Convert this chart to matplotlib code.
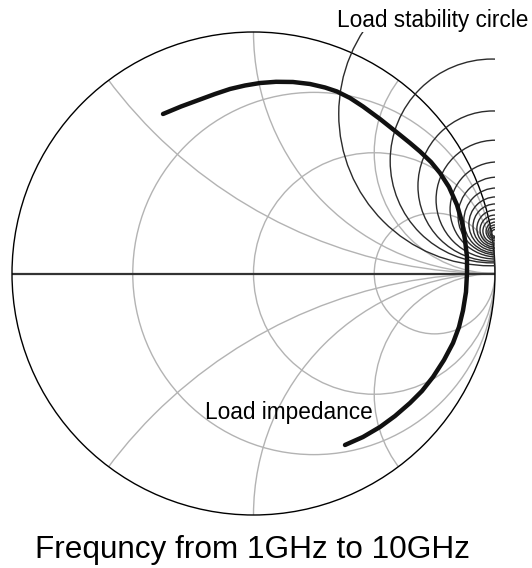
import numpy as np
import matplotlib
matplotlib.use("Agg")
from matplotlib import pyplot as plt
import matplotlib.patches as mpatches

plt.rcParams['font.family'] = ['Liberation Sans', 'DejaVu Sans']

# Smith chart grid values
r_grid = [1/3, 1.0, 3.0]
x_grid = [0.5, 1.0, 2.0, -0.5, -1.0, -2.0]

# load stability circles, 1GHz .. 10GHz (centre re, centre im, radius) in Gamma plane
stab_re = [0.982, 0.988, 0.992, 1.002, 1.011, 1.008, 1.006, 1.004, 1.002, 1.002, 1.000, 1.000, 1.002, 1.000, 1.000, 1.000]
stab_im = [0.661, 0.466, 0.362, 0.306, 0.265, 0.238, 0.219, 0.205, 0.195, 0.186, 0.180, 0.176, 0.174, 0.172, 0.170, 0.168]
stab_rad = [0.629, 0.422, 0.311, 0.246, 0.197, 0.161, 0.135, 0.112, 0.093, 0.077, 0.062, 0.050, 0.039, 0.029, 0.021, 0.014]

# load reflection coefficient over the sweep
load_re = [-0.3747, -0.3002, -0.2215, -0.1594, -0.0973, -0.0352, 0.0269, 0.0932, 0.1636, 0.2340,
           0.2961, 0.3458, 0.3996, 0.4534, 0.5238, 0.5942, 0.6480, 0.6894, 0.7350, 0.7723,
           0.8095, 0.8427, 0.8634, 0.8758, 0.8841, 0.8841, 0.8799, 0.8675, 0.8509, 0.8261,
           0.7888, 0.7433, 0.6977, 0.6480, 0.5859, 0.5238, 0.4534, 0.3789]
load_im = [0.6605, 0.6915, 0.7205, 0.7433, 0.7640, 0.7785, 0.7888, 0.7938, 0.7930, 0.7847,
           0.7702, 0.7536, 0.7267, 0.6915, 0.6398, 0.5839, 0.5404, 0.5052, 0.4617, 0.4161,
           0.3582, 0.2836, 0.2133, 0.1387, 0.0683, 0.0021, -0.0766, -0.1532, -0.2215, -0.2878,
           -0.3582, -0.4286, -0.4865, -0.5362, -0.5901, -0.6356, -0.6770, -0.7101]

W, H = 532, 568
fig = plt.figure(figsize=(W/100.0, H/100.0), dpi=100)
cx, cy, R = 253.5, 273.5, 241.5
ax = fig.add_axes([(cx-R)/W, (H-cy-R)/H, 2*R/W, 2*R/H])
ax.set_xlim(-1, 1)
ax.set_ylim(-1, 1)
ax.set_aspect('equal')
ax.axis('off')

unit = mpatches.Circle((0, 0), 1, facecolor='none', edgecolor='none')
ax.add_patch(unit)

grey = '#b3b3b3'
for r in r_grid:
    c = mpatches.Circle((r/(1+r), 0), 1/(1+r), fill=False, edgecolor=grey, lw=1.0)
    ax.add_patch(c)
    c.set_clip_path(unit)
for x in x_grid:
    c = mpatches.Circle((1, 1/x), 1/abs(x), fill=False, edgecolor=grey, lw=1.0)
    ax.add_patch(c)
    c.set_clip_path(unit)

ax.plot([-1, 1], [0, 0], color='#333333', lw=1.6, zorder=3)
ax.add_patch(mpatches.Circle((0, 0), 1, fill=False, edgecolor='black', lw=1.0, clip_on=False, zorder=4))

for i in range(len(stab_re)):
    ax.add_patch(mpatches.Circle((stab_re[i], stab_im[i]), stab_rad[i], fill=False,
                                 edgecolor='#2b2b2b', lw=1.0, zorder=5))

ax.plot(load_re, load_im, color='#111111', lw=3.2, solid_capstyle='round',
        solid_joinstyle='round', zorder=6)

ax.text(0.346, 1.021, 'Load stability circle', fontsize=16.3, ha='left', va='baseline', clip_on=False)
ax.text(-0.201, -0.602, 'Load impedance', fontsize=16.3, ha='left', va='baseline', zorder=7)

fig.text(252.5/W, (H-558)/H, 'Frequncy from 1GHz to 10GHz', fontsize=22.7, ha='center', va='baseline')

fig.savefig('out.png', dpi=100)
